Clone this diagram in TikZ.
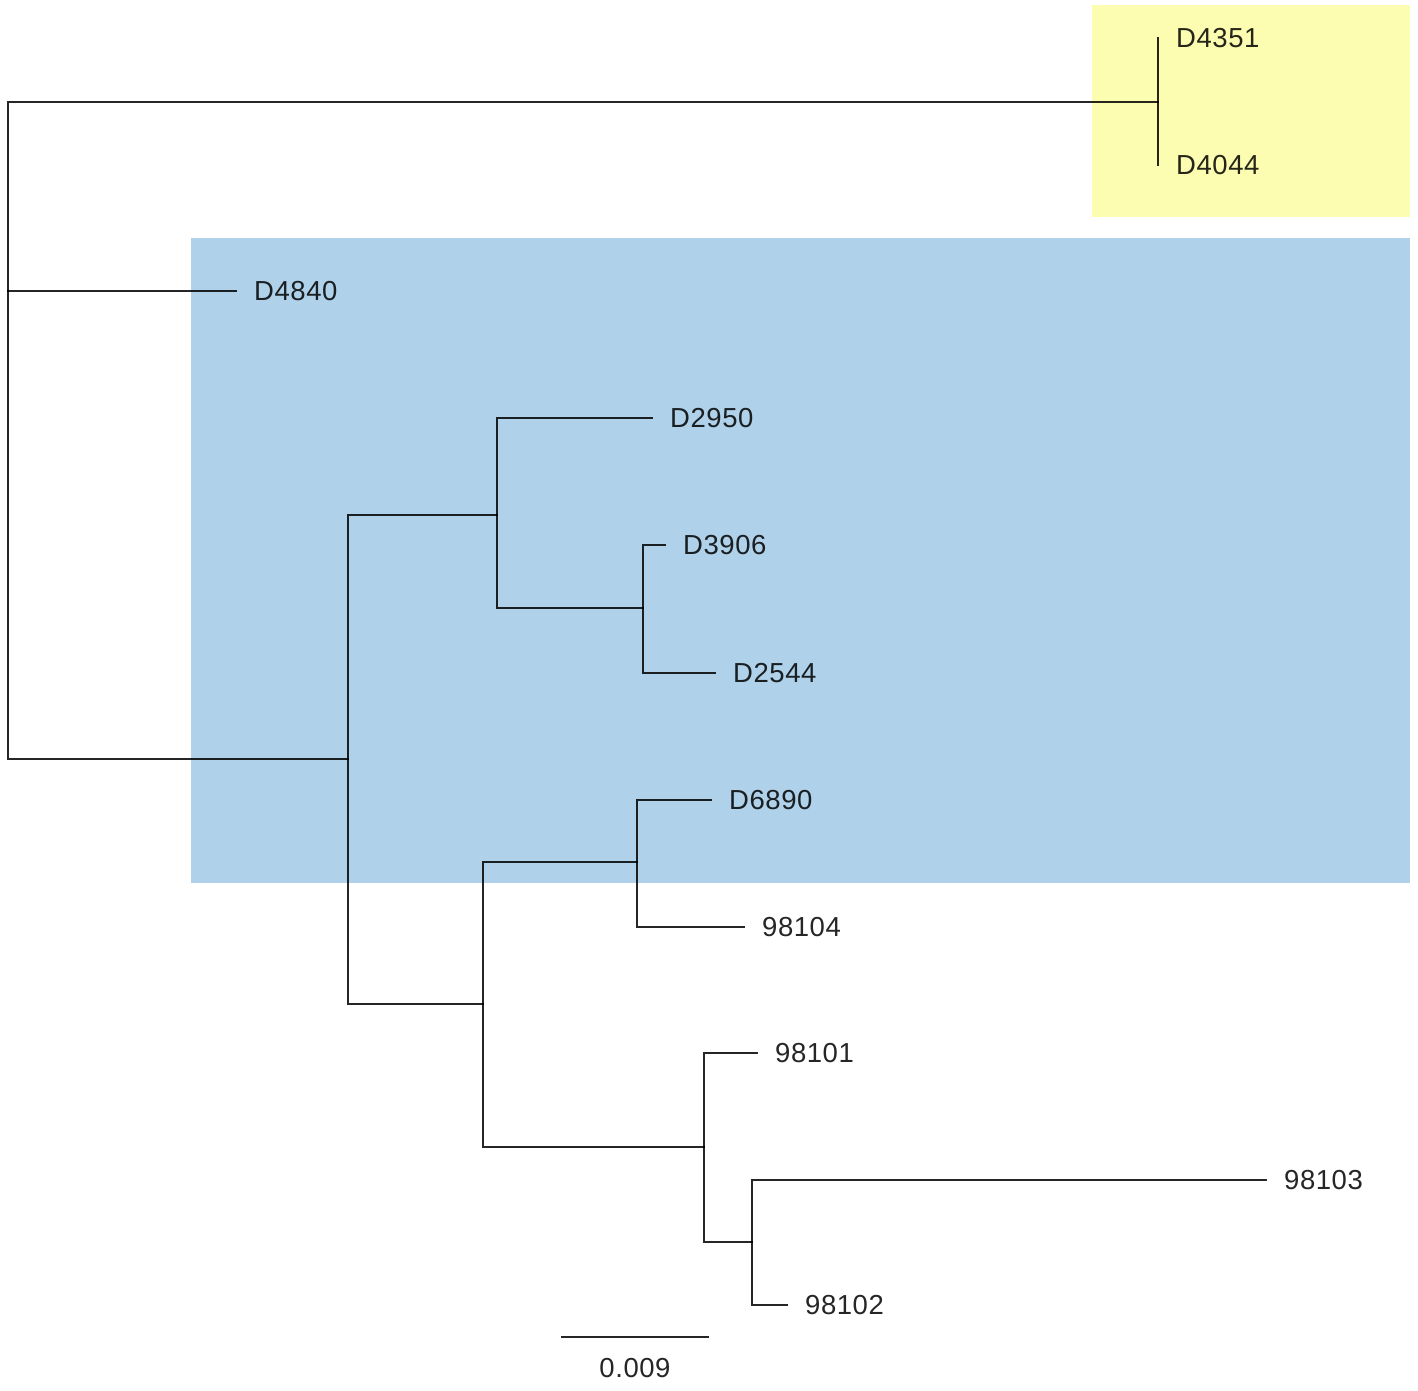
\documentclass[tikz,border=0pt]{standalone}
\usepackage{fontspec}
\setmainfont{Liberation Sans}[LetterSpace=2]
\definecolor{cladeyellow}{HTML}{FDFDB2}
\definecolor{cladeblue}{HTML}{B0D1EA}
\begin{document}
\begin{tikzpicture}[x=1pt,y=-1pt,
  branch/.style={line width=2.4pt, line cap=rect},
  leaflabel/.style={anchor=west, inner sep=0pt, xshift=18pt, font=\fontsize{27.5}{32}\selectfont},
  treepart/.style={opacity=0.85}]
\useasboundingbox (0,0) rectangle (1418,1391);
\fill[white] (0,0) rectangle (1418,1391);
% highlighted clades
\fill[cladeyellow] (1092,5) rectangle (1410,217);
\fill[cladeblue] (191,238) rectangle (1410,883);
\begin{scope}[treepart]
% internal nodes
\coordinate (root) at (8,291);
\coordinate (nA) at (1158,102);
\coordinate (nB) at (348,759);
\coordinate (nC) at (497,515);
\coordinate (nD) at (643,608);
\coordinate (nE) at (483,1004);
\coordinate (nF) at (637,862);
\coordinate (nG) at (704,1147);
\coordinate (nH) at (752,1242);
% leaves
\coordinate (lD4351) at (1158,38);
\coordinate (lD4044) at (1158,165);
\coordinate (lD4840) at (236,291);
\coordinate (lD2950) at (652,418);
\coordinate (lD3906) at (665,545);
\coordinate (lD2544) at (715,673);
\coordinate (lD6890) at (711,800);
\coordinate (l98104) at (744,927);
\coordinate (l98101) at (757,1053);
\coordinate (l98103) at (1266,1180);
\coordinate (l98102) at (787,1305);
% branches
\draw[branch] (root) |- (nA);
\draw[branch] (root) |- (lD4840);
\draw[branch] (root) |- (nB);
\draw[branch] (nA) -- (lD4351);
\draw[branch] (nA) -- (lD4044);
\draw[branch] (nB) |- (nC);
\draw[branch] (nB) |- (nE);
\draw[branch] (nC) |- (lD2950);
\draw[branch] (nC) |- (nD);
\draw[branch] (nD) |- (lD3906);
\draw[branch] (nD) |- (lD2544);
\draw[branch] (nE) |- (nF);
\draw[branch] (nE) |- (nG);
\draw[branch] (nF) |- (lD6890);
\draw[branch] (nF) |- (l98104);
\draw[branch] (nG) |- (l98101);
\draw[branch] (nG) |- (nH);
\draw[branch] (nH) |- (l98103);
\draw[branch] (nH) |- (l98102);
% labels
\node[leaflabel] (tD4351) at (lD4351) {D4351};
\node[leaflabel] (tD4044) at (lD4044) {D4044};
\node[leaflabel] (tD4840) at (lD4840) {D4840};
\node[leaflabel] (tD2950) at (lD2950) {D2950};
\node[leaflabel] (tD3906) at (lD3906) {D3906};
\node[leaflabel] (tD2544) at (lD2544) {D2544};
\node[leaflabel] (tD6890) at (lD6890) {D6890};
\node[leaflabel] (t98104) at (l98104) {98104};
\node[leaflabel] (t98101) at (l98101) {98101};
\node[leaflabel] (t98103) at (l98103) {98103};
\node[leaflabel] (t98102) at (l98102) {98102};
% scale bar
\coordinate (sbL) at (562,1337);
\coordinate (sbR) at (708,1337);
\draw[branch] (sbL) -- (sbR);
\node[inner sep=0pt, font=\fontsize{27.5}{32}\selectfont] (sblabel) at (635,1368) {0.009};
\end{scope}
\end{tikzpicture}
\end{document}
